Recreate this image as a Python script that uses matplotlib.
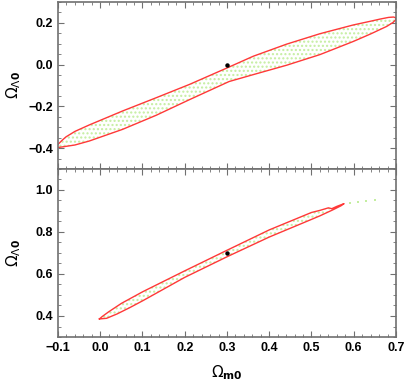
import matplotlib
matplotlib.use('Agg')
import matplotlib.pyplot as plt
from matplotlib.patches import Polygon
from matplotlib.ticker import MultipleLocator

plt.rcParams['font.family'] = ['Liberation Sans', 'DejaVu Sans']
plt.rcParams['mathtext.fontset'] = 'dejavusans'

# upper panel contour (Om0, OL0), traced around
top_x = [-0.112, -0.100, -0.090, -0.081, -0.060, -0.026, 0.053, 0.132, 0.211,
         0.300, 0.362, 0.441, 0.520, 0.599, 0.640, 0.662, 0.682, 0.694, 0.700,
         0.699, 0.693, 0.678, 0.640, 0.599, 0.520, 0.441, 0.362, 0.305, 0.211,
         0.132, 0.053, -0.026, -0.060, -0.089, -0.100, -0.112]
top_y = [-0.396, -0.382, -0.362, -0.346, -0.320, -0.289, -0.222, -0.159, -0.095,
         -0.016, 0.040, 0.098, 0.148, 0.190, 0.208, 0.218, 0.226, 0.228, 0.224,
         0.214, 0.202, 0.183, 0.147, 0.111, 0.048, -0.003, -0.048, -0.081, -0.168,
         -0.243, -0.310, -0.366, -0.385, -0.394, -0.397, -0.396]

# lower panel contour
bot_x = [-0.002, 0.005, 0.020, 0.050, 0.100, 0.200, 0.300, 0.400, 0.500, 0.520,
         0.540, 0.548, 0.560, 0.577, 0.570, 0.550, 0.520, 0.500, 0.400, 0.300,
         0.200, 0.100, 0.070, 0.040, 0.015, -0.002]
bot_y = [0.386, 0.398, 0.420, 0.460, 0.515, 0.615, 0.713, 0.810, 0.893, 0.903,
         0.915, 0.911, 0.922, 0.935, 0.925, 0.905, 0.877, 0.860, 0.776, 0.682,
         0.584, 0.472, 0.440, 0.410, 0.389, 0.386]

# stray samples beyond the lower contour
stray_x = [0.59, 0.61, 0.63, 0.65]
stray_y = [0.940, 0.944, 0.948, 0.951]

# fiducial model
fid_x = [0.3, 0.3]
fid_y = [0.0, 0.7]

red = '#ff3838'
green = '#c4eea0'
plt.rcParams['hatch.color'] = green

fig = plt.figure(figsize=(4.09, 3.82), dpi=100)
ax1 = fig.add_axes([0.1418, 0.5576, 0.8264, 0.4372])
ax2 = fig.add_axes([0.1418, 0.1178, 0.8264, 0.4398], sharex=ax1)

for ax, cx, cy, fy in [(ax1, top_x, top_y, fid_y[0]), (ax2, bot_x, bot_y, fid_y[1])]:
    pts = list(zip(cx, cy))
    ax.add_patch(Polygon(pts, closed=True, facecolor='none', edgecolor=green,
                         hatch='....', linewidth=0))
    ax.plot(cx, cy, color=red, lw=1.0)
    ax.plot([fid_x[0]], [fy], 'o', color='black', ms=2.2)
    ax.xaxis.set_major_locator(MultipleLocator(0.1))
    ax.xaxis.set_minor_locator(MultipleLocator(0.02))
    ax.yaxis.set_major_locator(MultipleLocator(0.2))
    ax.yaxis.set_minor_locator(MultipleLocator(0.05))
    ax.tick_params(which='both', direction='in', top=True, right=True,
                   color='#707070', labelsize=9)
    ax.tick_params(which='major', length=4, width=0.8)
    ax.tick_params(which='minor', length=2, width=0.6)
    for s in ax.spines.values():
        s.set_color('#707070')
        s.set_linewidth(1.2)
    for lab in ax.get_yticklabels() + ax.get_xticklabels():
        lab.set_fontweight('bold')
    ax.set_ylabel(r'$\Omega_{\Lambda\mathbf{0}}$', fontsize=11)
    ax.yaxis.set_label_coords(-0.105, 0.5)

ax2.scatter(stray_x, stray_y, s=0.6, color=green, marker='s', lw=0)

ax1.set_xlim(-0.1, 0.7)
ax1.set_ylim(-0.5, 0.3)
ax2.set_ylim(0.3, 1.1)
plt.setp(ax1.get_xticklabels(), visible=False)
ax2.set_xlabel(r'$\Omega_{\mathbf{m0}}$', fontsize=11)
ax2.xaxis.set_label_coords(0.5, -0.155)

fig.savefig('out.png', dpi=100)
